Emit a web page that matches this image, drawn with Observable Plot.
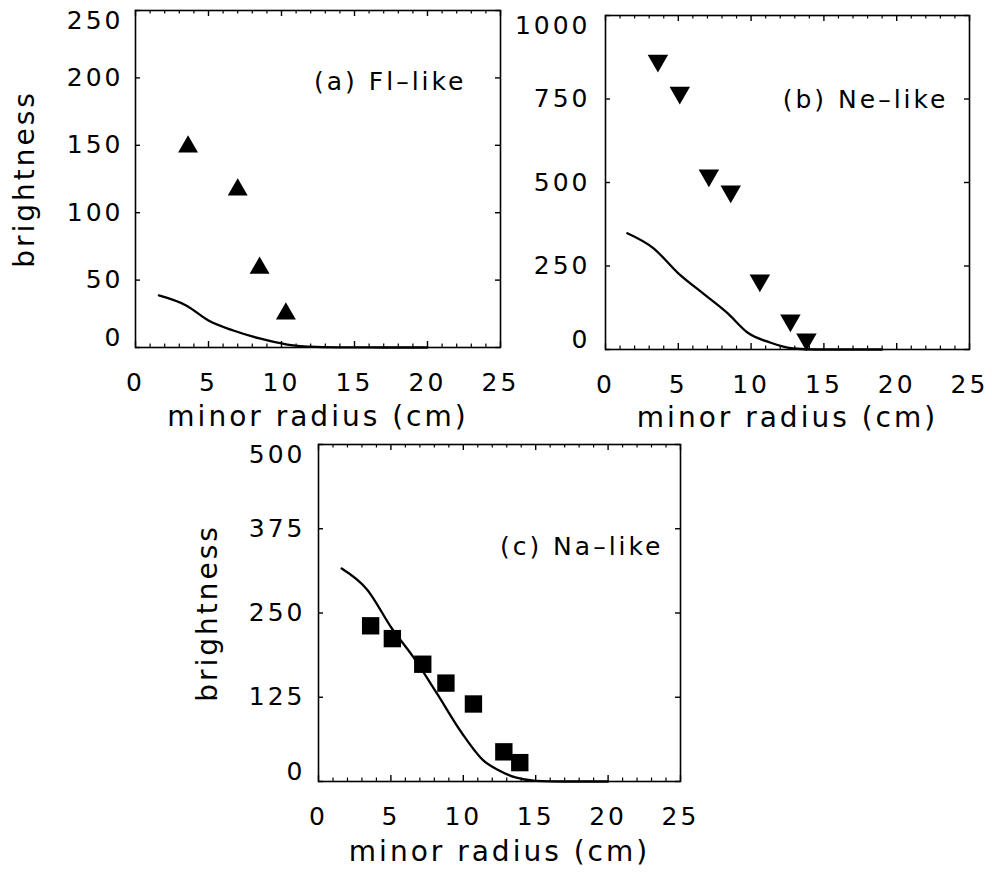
<!DOCTYPE html>
<html><head><meta charset="utf-8">
<script src="https://cdn.jsdelivr.net/npm/d3@7"></script>
<script src="https://cdn.jsdelivr.net/npm/@observablehq/plot@0.6"></script>
<style>
body{margin:0;background:#fff;width:992px;height:878px;position:relative;overflow:hidden;font-family:"DejaVu Sans";}
.panel{position:absolute;}
.panel svg text{letter-spacing:3px;}
.panel g[aria-label="title"] text{letter-spacing:2.8px;}
.panel g[aria-label="note"] text{letter-spacing:3px;}
</style></head><body>
<div id="pa" class="panel" style="left:0;top:0"></div>
<div id="pb" class="panel" style="left:520px;top:0"></div>
<div id="pc" class="panel" style="left:180px;top:440px"></div>
<script>
// axis ticks
const xTicks = [0, 5, 10, 15, 20, 25];
const xMinor = [1, 2, 3, 4, 6, 7, 8, 9, 11, 12, 13, 14, 16, 17, 18, 19, 21, 22, 23, 24];
const aYTicks = [0, 50, 100, 150, 200, 250];
const bYTicks = [0, 250, 500, 750, 1000];
const cYTicks = [0, 125, 250, 375, 500];
const xTitle = "minor radius (cm)";
const yTitle = "brightness";

// (a) Fl-like
const aModelX = [1.6, 3.5, 5.0, 6.7, 8.5, 10.4, 12.4, 14.5, 17, 20];
const aModelY = [38.6, 31, 20, 12.6, 6.7, 2.2, 0.5, 0.1, 0, 0];
const aObsX = [3.6, 7.0, 8.5, 10.3];
const aObsY = [149, 117, 59, 25];

// (b) Ne-like
const bModelX = [1.5, 3.3, 5.0, 6.7, 8.4, 9.75, 11.3, 12.9, 14.5, 19];
const bModelY = [348, 303, 228, 168, 108, 51, 21, 3, 0, 0];
const bObsX = [3.6, 5.1, 7.1, 8.6, 10.6, 12.7, 13.8];
const bObsY = [865, 769, 521, 473, 207, 87, 30];

// (c) Na-like
const cModelX = [1.6, 3.35, 5.07, 6.6, 8.2, 9.9, 11.4, 12.5, 13.6, 15, 17, 20];
const cModelY = [316, 285, 227, 183, 130, 72, 31, 16, 6, 1, 0, 0];
const cObsX = [3.6, 5.1, 7.2, 8.8, 10.7, 12.8, 13.9];
const cObsY = [231, 212, 174, 146, 115, 44, 28];

const zip = (xs, ys) => xs.map((x, i) => ({x, y: ys[i]}));

function panel(o) {
  const t = o.yTicks;
  const y0 = t[0], y1 = t[t.length - 1];
  const x0 = 0, x1 = 25;
  const iw = o.width - o.ml - o.mr;
  const ih = o.height - o.mt - o.mb;
  // convert a tick length in pixels to data units of each scale
  const dyv = px => (y1 - y0) * px / ih;
  const dxv = px => (x1 - x0) * px / iw;
  const fmt = d => String(d);
  const id = d => d;
  const marks = [
    Plot.frame({stroke: "black", strokeWidth: 1.6}),
    // inward tick marks on all four sides
    Plot.ruleX(xTicks, {x: id, y1: y0, y2: y0 + dyv(6), stroke: "black", strokeWidth: 1.4}),
    Plot.ruleX(xTicks, {x: id, y1: y1 - dyv(6), y2: y1, stroke: "black", strokeWidth: 1.4}),
    Plot.ruleX(xMinor, {x: id, y1: y0, y2: y0 + dyv(3.5), stroke: "black", strokeWidth: 1.2}),
    Plot.ruleX(xMinor, {x: id, y1: y1 - dyv(3.5), y2: y1, stroke: "black", strokeWidth: 1.2}),
    Plot.ruleY(t, {y: id, x1: x0, x2: x0 + dxv(5), stroke: "black", strokeWidth: 1.4}),
    Plot.ruleY(t, {y: id, x1: x1 - dxv(5), x2: x1, stroke: "black", strokeWidth: 1.4}),
    // tick labels
    Plot.axisX(xTicks, {anchor: "bottom", tickSize: 0, tickPadding: 26, label: null, tickFormat: fmt}),
    Plot.axisY(t.slice(1, -1), {anchor: "left", tickSize: 0, tickPadding: o.padY, label: null, tickFormat: fmt}),
    Plot.axisY([y0], {anchor: "left", tickSize: 0, tickPadding: o.padY, dy: -10, label: null, tickFormat: fmt}),
    Plot.axisY([y1], {anchor: "left", tickSize: 0, tickPadding: o.padY, dy: 10, label: null, tickFormat: fmt}),
    // data
    Plot.line(zip(o.modelX, o.modelY), {x: "x", y: "y", stroke: "black", strokeWidth: 2.3, curve: "monotone-x"}),
    Plot.dot(zip(o.obsX, o.obsY), {x: "x", y: "y", symbol: o.symbol, r: o.r, rotate: o.rotate, fill: "black", stroke: "none"}),
    // titles
    Plot.text([xTitle], {text: id, frameAnchor: "bottom", textAnchor: "middle", dy: o.titleDy, fontSize: 28, ariaLabel: "title"}),
    Plot.text([o.note], {text: id, frameAnchor: "top-right", textAnchor: "end", dx: o.noteDx, dy: o.noteDy, fontSize: 25, ariaLabel: "note"})
  ];
  if (o.showYTitle) marks.push(Plot.text([yTitle], {text: id, frameAnchor: "left", textAnchor: "middle", dx: -110, rotate: -90, fontSize: 28, ariaLabel: "title"}));
  const svg = Plot.plot({
    width: o.width, height: o.height,
    marginLeft: o.ml, marginRight: o.mr, marginTop: o.mt, marginBottom: o.mb,
    x: {domain: [x0, x1]},
    y: {domain: [y0, y1]},
    style: {fontFamily: "DejaVu Sans", fontSize: "25px", background: "transparent", color: "black", overflow: "visible"},
    marks
  });
  document.getElementById(o.el).appendChild(svg);
}

panel({el: "pa", width: 520, height: 450, ml: 135, mr: 20, mt: 10, mb: 103,
  yTicks: aYTicks, modelX: aModelX, modelY: aModelY, obsX: aObsX, obsY: aObsY,
  symbol: "triangle", r: 7.4, rotate: 0, note: "(a) Fl\u2013like", noteDx: -34, noteDy: 62,
  padY: 12, titleDy: 78, showYTitle: true});
panel({el: "pb", width: 472, height: 450, ml: 85, mr: 23, mt: 15, mb: 101,
  yTicks: bYTicks, modelX: bModelX, modelY: bModelY, obsX: bObsX, obsY: bObsY,
  symbol: "triangle", r: 7.6, rotate: 180, note: "(b) Ne\u2013like", noteDx: -21, noteDy: 75,
  padY: 15, titleDy: 77, showYTitle: false});
panel({el: "pc", width: 560, height: 438, ml: 138, mr: 60, mt: 4, mb: 97,
  yTicks: cYTicks, modelX: cModelX, modelY: cModelY, obsX: cObsX, obsY: cObsY,
  symbol: "square", r: 9.8, rotate: 0, note: "(c) Na\u2013like", noteDx: -17, noteDy: 93,
  padY: 13, titleDy: 79, showYTitle: true});
</script>
</body></html>
